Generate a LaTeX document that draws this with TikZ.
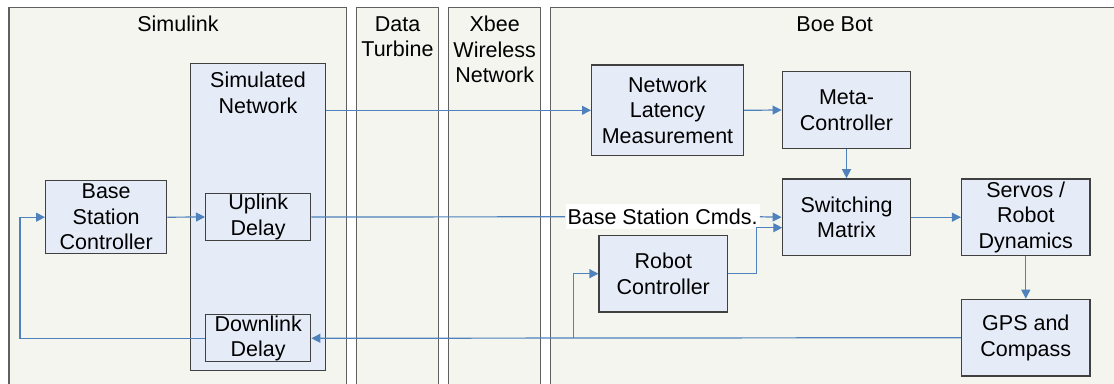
\documentclass[tikz,border=0pt]{standalone}
\usepackage{fontspec}
\setmainfont{Liberation Sans}
\usetikzlibrary{arrows.meta}
\definecolor{panelfill}{RGB}{243,245,238}
\definecolor{panelline}{RGB}{96,96,96}
\definecolor{blockfill}{RGB}{230,236,247}
\definecolor{blockline}{RGB}{64,64,64}
\definecolor{linkblue}{RGB}{79,129,189}
\begin{document}
\begin{tikzpicture}[x=0.5pt,y=-0.5pt,
        font=\fontsize{10.75}{12.75}\selectfont,
        panel/.style={draw=panelline,fill=panelfill,line width=0.6pt},
        title/.style={anchor=north,align=center,inner sep=0pt},
        block/.style={draw=blockline,fill=blockfill,line width=0.7pt,align=center,inner sep=0pt},
        wide/.style={minimum width=64.2pt,minimum height=38.3pt},
        delay/.style={minimum width=52.5pt,minimum height=23.5pt},
        link/.style={draw=linkblue,line width=0.6pt},
        >={Triangle[length=4.5pt,width=4.5pt]}]
    \useasboundingbox (0,0) rectangle (1114,384);
    \clip (0,0) rectangle (1114,384);
    \draw[panel] (9,7.3) rectangle (346.7,400);
    \draw[panel] (356.7,7.3) rectangle (438.3,400);
    \draw[panel] (448.7,7.3) rectangle (540.7,400);
    \draw[panel] (550.7,7.3) rectangle (1130,400);
    \node[title] (simulink) at (177.9,16) {Simulink};
    \node[title] (turbine) at (397.5,16) {Data\\Turbine};
    \node[title] (xbee) at (494.7,16) {Xbee\\Wireless\\Network};
    \node[title] (boebot) at (834.7,16) {Boe Bot};
    \node[block,minimum width=60.5pt,minimum height=36.5pt] (bsc) at (106.2,217.2) {Base\\Station\\Controller};
    \node[block,minimum width=67.7pt,minimum height=153.5pt] (simnet) at (258,216.8) {};
    \node[title] (simnetlbl) at (258,72) {Simulated\\Network};
    \node[block,delay] (uplink) at (258.2,217) {Uplink\\Delay};
    \node[block,delay] (downlink) at (258.2,338.3) {Downlink\\Delay};
    \node[block,minimum width=75.8pt,minimum height=45.4pt] (nlm) at (667.5,110.3) {Network\\Latency\\Measurement};
    \node[block,wide] (meta) at (846.5,110) {Meta-\\Controller};
    \node[block,wide] (switch) at (846.5,217.2) {Switching\\Matrix};
    \node[block,wide] (robot) at (663.3,273.7) {Robot\\Controller};
    \node[block,wide] (servos) at (1025.8,217.2) {Servos /\\Robot\\Dynamics};
    \node[block,wide] (gps) at (1025.8,337.7) {GPS and\\Compass};
    \node[fill=white,inner xsep=1pt,inner ysep=0pt,minimum height=12.5pt] (cmds) at (662.5,216.8) {Base Station Cmds.};
    \coordinate (swin) at (782.3,227.7);
    \coordinate (tap) at (573.3,337.7);
    \draw[link,->] (nlm.west -| simnet.east) -- (nlm.west);
    \draw[link,->] (nlm.east) -- (meta.west);
    \draw[link,->] (meta.south) -- (switch.north);
    \draw[link,->] (bsc.east) -- (uplink.west);
    \draw[link] (uplink.east) -- (cmds.west);
    \draw[link,->] (cmds.east) -- (switch.west);
    \draw[link,->] (robot.east) -- ++(28,0) |- (swin);
    \draw[link,->] (switch.east) -- (servos.west);
    \draw[link,->] (servos.south) -- (gps.north);
    \draw[link,->] (gps.west) -- (downlink.east);
    \draw[link,->] (tap) |- (robot.west);
    \draw[link,->] (downlink.west) -- ++(-185,0) |- (bsc.west);
\end{tikzpicture}
\end{document}
